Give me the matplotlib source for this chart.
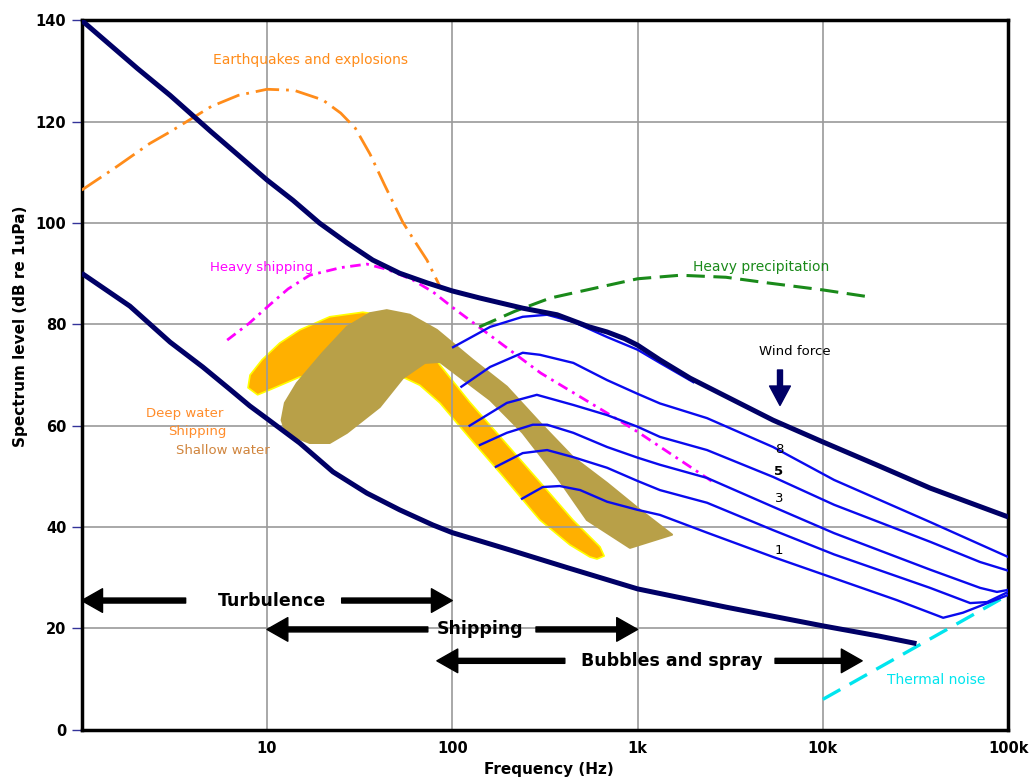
import matplotlib.pyplot as plt
import numpy as np

# --- background noise limits (Hz, dB re 1uPa) ---
upper_f = [1, 2, 3, 5, 7, 10, 13.8, 19.2, 27, 37.2, 52, 73, 100, 141, 240, 368, 550,
           685, 850, 1000, 1320, 1918, 3000, 5385, 10000, 20000, 37900, 100000]
upper_db = [140, 130.5, 125.2, 118, 113.4, 108.5, 104.5, 100, 96.1, 92.7, 90.1, 88.2,
            86.6, 85.2, 83.2, 81.9, 79.5, 78.5, 77.2, 75.9, 73, 69.4, 65.8, 61.1, 56.8,
            52.1, 47.7, 42]

lower_f = [1, 1.82, 3, 4.5, 6.3, 8.08, 10, 15, 22.7, 34.6, 52, 78.7, 100, 146, 204,
           417, 1000, 3000, 10000, 20000, 32000]
lower_db = [90.1, 83.6, 76.5, 71.6, 67.2, 63.9, 61.4, 56.6, 50.9, 46.7, 43.4, 40.4,
            38.9, 37.1, 35.5, 32.0, 27.8, 24.2, 20.5, 18.5, 17.0]

# --- sources ---
quake_f = [1, 1.5, 2.33, 3, 5, 7, 10, 14, 20, 25, 30, 36, 43, 54, 63, 73, 86]
quake_db = [106.5, 110.8, 115.7, 118, 123, 125.2, 126.4, 126.2, 124.3, 121.7, 118.7,
            113.6, 107.6, 100.2, 96.3, 92.7, 87.4]

ship_f = [6.1, 8, 10.3, 13, 17, 25, 34.6, 45, 61, 78.7, 100, 130, 300, 685, 1000, 2600]
ship_db = [76.9, 80.2, 83.8, 87, 89.7, 91.2, 91.9, 90.8, 88.8, 86.4, 83.4, 80.3, 70.4,
           62.5, 58.8, 48.7]

rain_f = [140, 218, 338, 533, 1000, 1700, 3000, 5000, 10000, 18000]
rain_db = [79.5, 82.6, 85.2, 86.8, 89.0, 89.7, 89.3, 88.2, 86.8, 85.4]

thermal_f = [10000, 100000]
thermal_db = [6, 26.6]

# --- wind force curves ---
windA_f = [101, 160, 240, 325, 450, 685, 1000, 1320, 2000]
windA_db = [75.5, 79.5, 81.5, 81.9, 80.5, 77.5, 75.0, 72.4, 68.6]
windB_f = [112, 160, 240, 297, 450, 685, 1000, 1320, 2370, 5385, 11500, 37900, 100000]
windB_db = [67.7, 71.6, 74.4, 74, 72.4, 69, 66.3, 64.4, 61.5, 55.8, 49.3, 41, 34.1]
windC_f = [124, 197, 286, 450, 685, 1000, 1320, 2370, 5385, 11500, 37900, 70600, 100000]
windC_db = [60, 64.5, 66.1, 64.1, 62.1, 59.8, 57.8, 55.2, 49.9, 44.4, 37.1, 33.1, 31.4]
windD_f = [141, 197, 272, 325, 450, 685, 1000, 1320, 2370, 5385, 11500, 37900, 70600,
           87000, 100000]
windD_db = [56.2, 58.6, 60.2, 60.2, 58.6, 55.8, 53.7, 52.3, 49.7, 44, 38.8, 31.6, 28,
            27.2, 27.6]
windE_f = [172, 240, 325, 450, 685, 1000, 1320, 2370, 5385, 11500, 37900, 62400, 77000,
           100000]
windE_db = [51.9, 54.6, 55.2, 53.8, 51.7, 49.1, 47.3, 44.8, 39.4, 34.6, 28, 25, 25.2, 27.2]
windF_f = [238, 308, 380, 490, 685, 1000, 1320, 2370, 5385, 11500, 25000, 44600, 57000,
           100000]
windF_db = [45.6, 47.9, 48.1, 47.3, 45, 43.4, 42.4, 38.9, 34.1, 29.9, 25.6, 22.1, 23.1,
            26.6]
wind_labels = ['8', '5', '3', '1']
wind_label_db = [55.4, 50.9, 45.6, 35.3]

# --- shipping areas (outline in f, dB) ---
deep_f = [7.9, 8.1, 9.4, 11.7, 15, 21.8, 32.9, 49, 66.8, 85.7, 124, 192, 297, 448, 627,
          660, 604, 553, 431, 297, 181, 124, 85.7, 66.8, 54, 40.6, 29.8, 21.8, 15,
          10.7, 8.9]
deep_db = [67.5, 70, 73, 76.3, 78.9, 81.5, 82.4, 81.5, 77.9, 72, 64.7, 56.8, 48.9, 41.4,
           36.1, 34.3, 33.7, 34.1, 36.5, 41.4, 50.7, 57.6, 64.5, 68, 69.6, 71.4, 71.8,
           70.6, 69.6, 67.3, 66.1]
shallow_f = [12.0, 12.5, 14.5, 20.0, 27.0, 35.9, 44.3, 59.0, 82.6, 129, 197, 297, 448,
             684, 1030, 1535, 910, 533, 367, 240, 160, 110, 85.7, 71.1, 54.1, 40.6,
             27.0, 21.8, 17.0, 14.1, 12.5]
shallow_db = [61.1, 64.5, 68.4, 74.4, 79.5, 82.2, 82.8, 81.9, 78.9, 73.0, 67.7, 60.6,
              53.8, 48.7, 43.4, 38.5, 35.9, 41.4, 49.9, 58.6, 65.1, 69.6, 72.6, 72.4,
              69.4, 63.7, 58.6, 56.6, 56.6, 57.8, 59.2]

NAVY = '#000066'
BLUE = '#0a0aee'

fig = plt.figure(figsize=(10.34, 7.83), dpi=100)
ax = fig.add_axes([0.079, 0.068, 0.896, 0.906])
ax.set_xscale('log')
ax.set_xlim(1, 100000)
ax.set_ylim(0, 140)

ax.grid(True, which='major', color='#9a9a9a', lw=1.2, zorder=0)
ax.minorticks_off()

# shipping areas
ax.fill(deep_f, deep_db, facecolor='#ffb000', edgecolor='#ffff00', lw=1.2,
        joinstyle='round', zorder=1)
ax.fill(shallow_f, shallow_db, facecolor='#b8a048', edgecolor='#b8a048', lw=1.5,
        joinstyle='round', zorder=2)

# sources
ax.plot(quake_f, quake_db, color='#ff8c1a', lw=2, dashes=(8.5, 2.5, 1, 2.5), zorder=3)
ax.plot(ship_f, ship_db, color='#ff00ff', lw=2, dashes=(3.8, 2, 1, 2), zorder=3)
ax.plot(rain_f, rain_db, color='#1a8a1a', lw=2.2, dashes=(6, 2.8), zorder=3)
ax.plot(thermal_f, thermal_db, color='#00e5ee', lw=2.4, dashes=(6, 3.2), zorder=3)

# wind curves
for wf, wdb in [(windA_f, windA_db), (windB_f, windB_db), (windC_f, windC_db),
                (windD_f, windD_db), (windE_f, windE_db), (windF_f, windF_db)]:
    ax.plot(wf, wdb, color=BLUE, lw=1.7, solid_joinstyle='round', zorder=4)

# limits
ax.plot(upper_f, upper_db, color=NAVY, lw=3.6, solid_capstyle='butt',
        solid_joinstyle='round', zorder=5)
ax.plot(lower_f, lower_db, color=NAVY, lw=3.6, solid_capstyle='butt',
        solid_joinstyle='round', zorder=5)

for lab, ydb in zip(wind_labels, wind_label_db):
    ax.text(5800, ydb, lab, ha='center', va='center', fontsize=9.5,
            fontweight='bold' if lab == '5' else 'normal', zorder=6)

# labels on the plot
ax.text(17.2, 132.1, 'Earthquakes and explosions', color='#ff8c1a', fontsize=10,
        ha='center', va='center')
ax.text(4.9, 91.3, 'Heavy shipping', color='#ff00ff', fontsize=9.5, ha='left', va='center')
ax.text(1990, 91.3, 'Heavy precipitation', color='#1a8a1a', fontsize=10,
        ha='left', va='center')
ax.text(7080, 74.6, 'Wind force', color='black', fontsize=9.5, ha='center', va='center')
ax.annotate('', xy=(5870, 64.0), xytext=(5870, 71.0),
            arrowprops=dict(arrowstyle='simple,head_length=0.7,head_width=0.75,tail_width=0.18',
                            color=NAVY, mutation_scale=20, shrinkA=0, shrinkB=0))
ax.text(2.22, 62.5, 'Deep water', color='#ff8c2a', fontsize=9.5, ha='left', va='center')
ax.text(2.91, 58.8, 'Shipping', color='#ff8c2a', fontsize=9.5, ha='left', va='center')
ax.text(3.22, 55.2, 'Shallow water', color='#d0843c', fontsize=9.5, ha='left', va='center')
ax.text(22200, 9.9, 'Thermal noise', color='#00e5ee', fontsize=10, ha='left', va='center')

# frequency bands with arrows
bands = [('Turbulence', 10.6, 25.5, [(3.64, 1.0), (25.3, 100)]),
         ('Shipping', 141, 19.8, [(73.8, 10), (283, 1000)]),
         ('Bubbles and spray', 1535, 13.6, [(405, 82.6), (5520, 16300)])]
arrow = dict(arrowstyle='simple,head_length=0.75,head_width=0.85,tail_width=0.18',
             color='black', mutation_scale=20, shrinkA=0, shrinkB=0)
for name, fc, ydb, arrows in bands:
    ax.text(fc, ydb, name, fontsize=12.5, fontweight='bold', ha='center', va='center',
            zorder=6)
    for tail, tip in arrows:
        ax.annotate('', xy=(tip, ydb), xytext=(tail, ydb), arrowprops=arrow, zorder=6)

# axes styling
ax.set_xticks([1, 10, 100, 1000, 10000, 100000])
ax.set_xticklabels(['', '10', '100', '1k', '10k', '100k'])
ax.set_yticks(np.arange(0, 141, 20))
for s in ax.spines.values():
    s.set_linewidth(2.5)
    s.set_color('black')
ax.tick_params(axis='y', length=7, width=1, color='#333399', labelsize=10.5, pad=4)
ax.tick_params(axis='x', length=0, labelsize=10.5, pad=8)
for t in ax.get_xticklabels() + ax.get_yticklabels():
    t.set_fontweight('bold')

ax.set_xlabel('Frequency (Hz)', fontsize=11, fontweight='bold')
ax.xaxis.set_label_coords(0.504, -0.045)
ax.set_ylabel('Spectrum level (dB re 1uPa)', fontsize=11, fontweight='bold')
ax.yaxis.set_label_coords(-0.058, 0.569)

fig.savefig('out.png', dpi=100)
